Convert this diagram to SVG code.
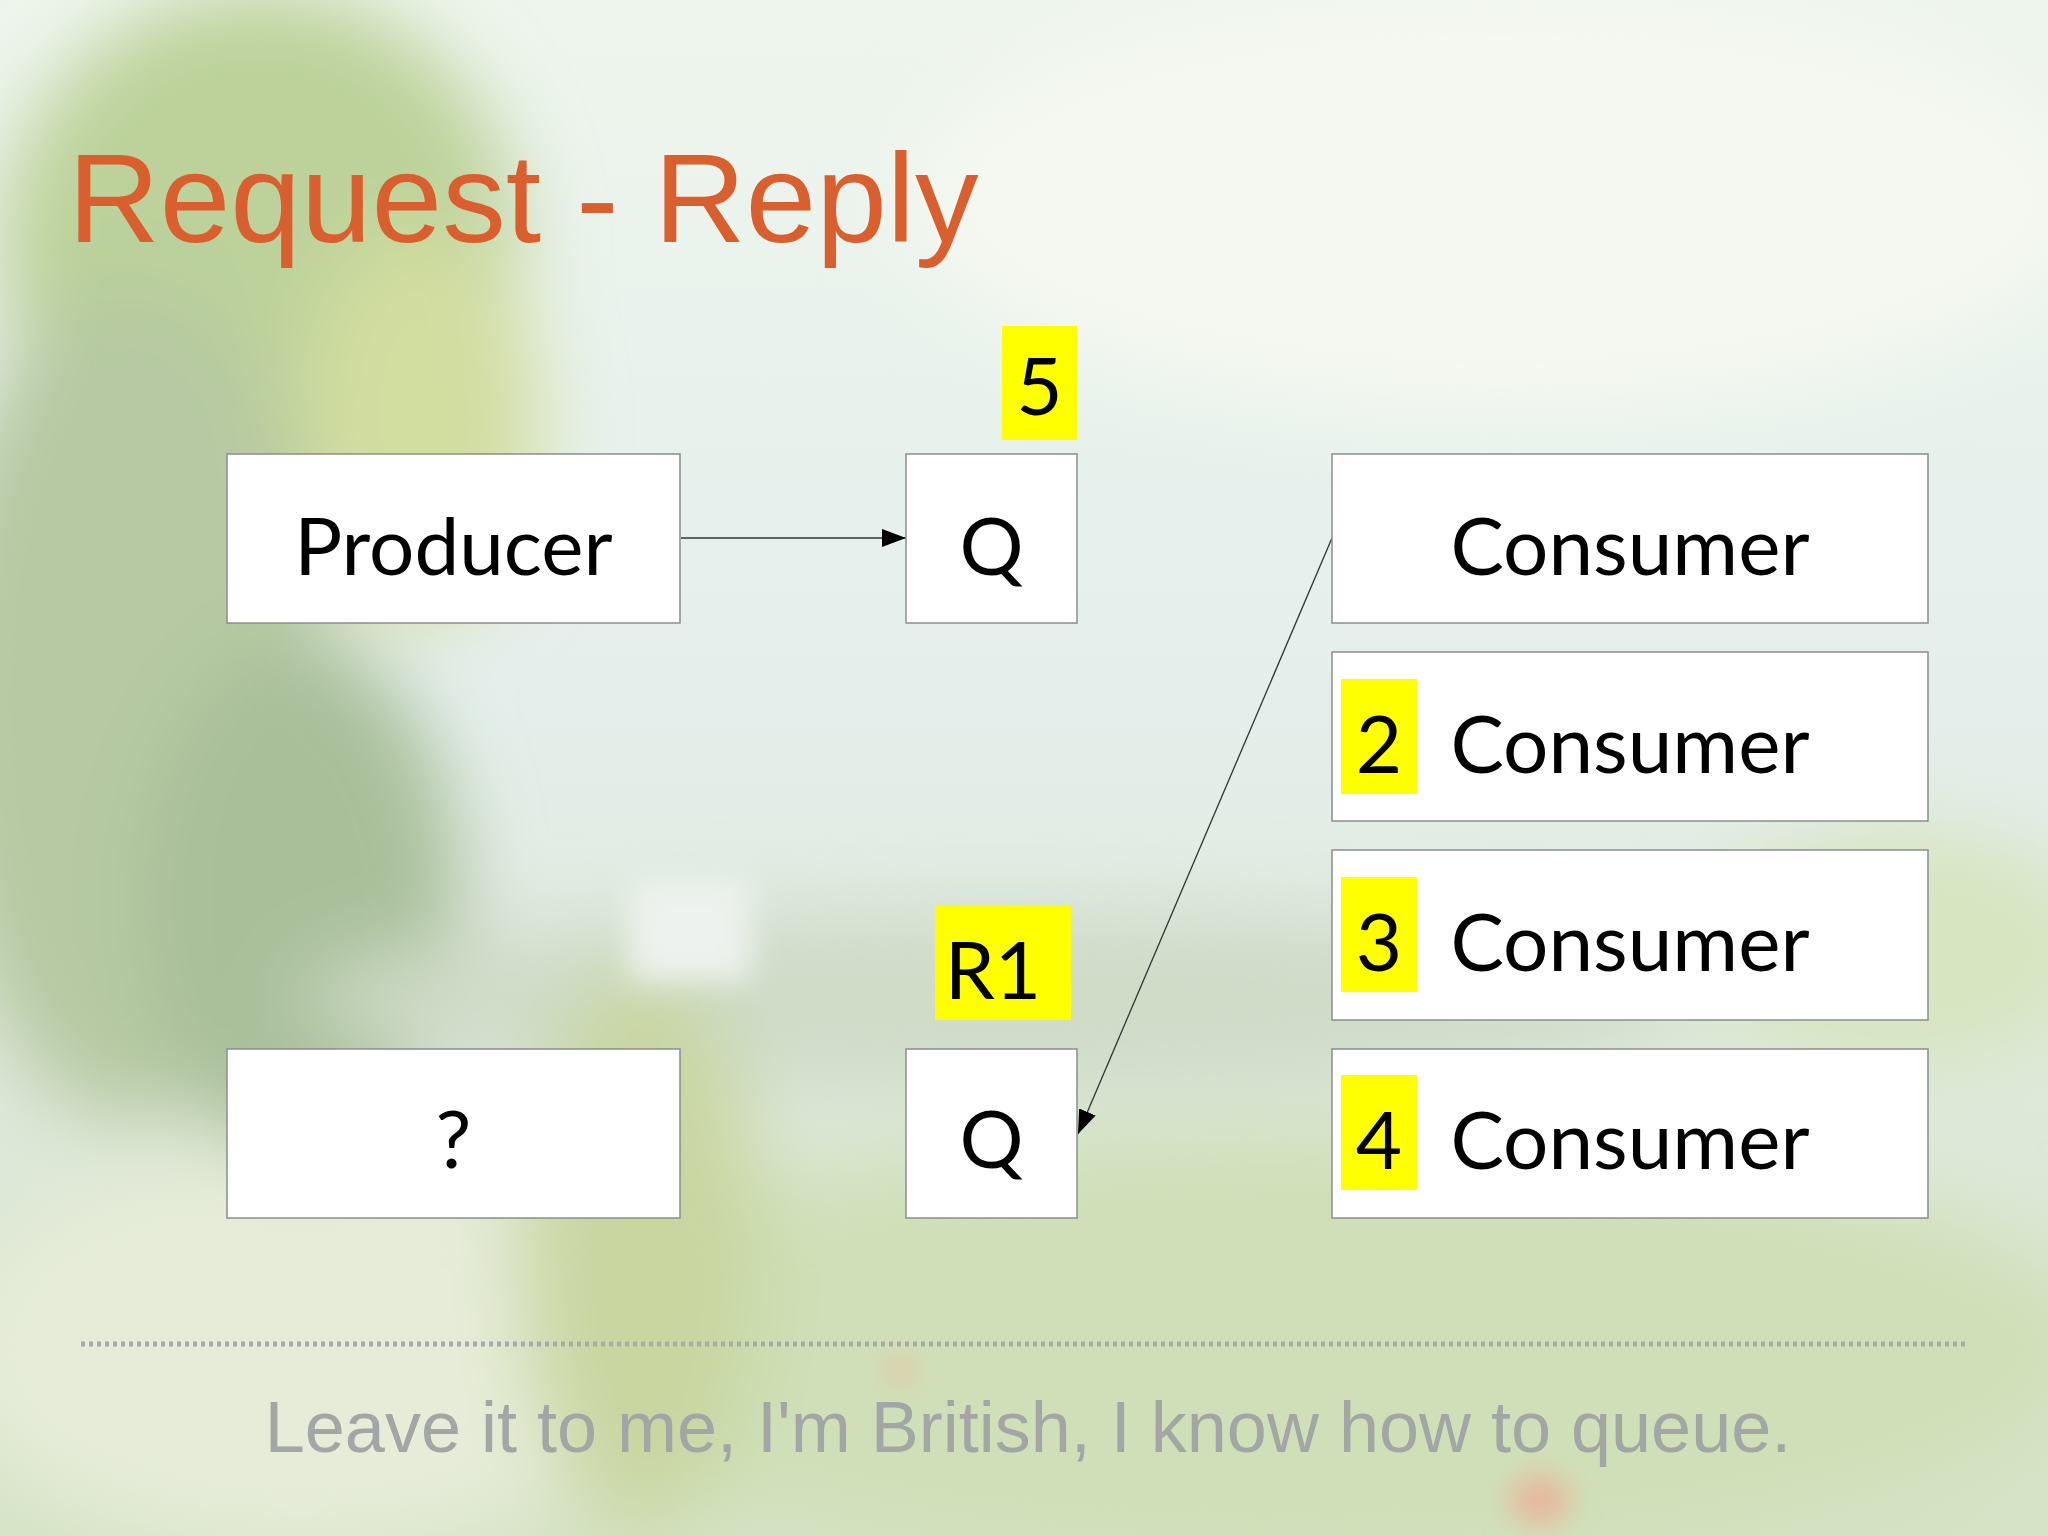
<svg xmlns="http://www.w3.org/2000/svg" width="2048" height="1536" viewBox="0 0 2048 1536">
<defs>
<style>
.box{fill:#ffffff;stroke:#8a8f8c;stroke-width:1.5}
.hl{fill:#ffff00}
.lbl{font-family:Lato,"Open Sans","DejaVu Sans",sans-serif;font-size:80px;fill:#000000}
.conn{stroke:#333333;stroke-width:1.3;fill:none}
</style>
<marker id="arr" markerUnits="userSpaceOnUse" markerWidth="26" markerHeight="18" refX="24" refY="9" orient="auto">
<path d="M0,0 L24,9 L0,18 Z" fill="#000000"/>
</marker>
<filter id="blur" x="-50%" y="-50%" width="200%" height="200%"><feGaussianBlur stdDeviation="40"/></filter>
<filter id="blur2" x="-50%" y="-50%" width="200%" height="200%"><feGaussianBlur stdDeviation="15"/></filter>
<linearGradient id="bg" x1="0" y1="0" x2="0" y2="1">
<stop offset="0" stop-color="#eef5ec"/>
<stop offset="0.45" stop-color="#e4efec"/>
<stop offset="0.7" stop-color="#dfe9dc"/>
<stop offset="1" stop-color="#d6e3c6"/>
</linearGradient>
</defs>
<g id="background">
<rect x="0" y="0" width="2048" height="1536" fill="url(#bg)"/>
<g filter="url(#blur)">
<ellipse cx="1500" cy="200" rx="600" ry="220" fill="#f4f8f0"/>
<ellipse cx="260" cy="250" rx="260" ry="260" fill="#bcd29a"/>
<ellipse cx="130" cy="700" rx="200" ry="420" fill="#b6c9a2"/>
<ellipse cx="420" cy="420" rx="120" ry="200" fill="#d2dda0"/>
<ellipse cx="300" cy="900" rx="160" ry="260" fill="#a9bf9a"/>
<ellipse cx="1000" cy="1000" rx="700" ry="90" fill="#cfdcc8"/>
<ellipse cx="1300" cy="1350" rx="800" ry="220" fill="#cfe0b8"/>
<ellipse cx="300" cy="1350" rx="350" ry="200" fill="#e6ecd8"/>
<ellipse cx="640" cy="1250" rx="120" ry="280" fill="#c9d6a0"/>
<ellipse cx="1900" cy="950" rx="200" ry="120" fill="#d7e5c0"/>
</g>
<g filter="url(#blur2)">
<rect x="630" y="880" width="120" height="100" fill="#eef2ee"/>
<ellipse cx="1540" cy="1500" rx="30" ry="25" fill="#e9b49a"/>
<ellipse cx="900" cy="1370" rx="14" ry="14" fill="#e8c0a0"/>
</g>
</g>
<g id="title">
<text x="68" y="242" font-family="'Liberation Sans',Arial,sans-serif" font-size="127" fill="#d95f2f">Request - Reply</text>
</g>
<g id="connectors">
<line class="conn" x1="681" y1="538" x2="906" y2="538" marker-end="url(#arr)"/>
<line class="conn" x1="1332" y1="538" x2="1078" y2="1134" marker-end="url(#arr)"/>
</g>
<g id="producer">
<rect class="box" x="227" y="454" width="453" height="169"/>
<text class="lbl" x="453.5" y="575" text-anchor="middle">Producer</text>
</g>
<g id="queue-request">
<rect class="box" x="906" y="454" width="171" height="169"/>
<text class="lbl" x="991.5" y="575" text-anchor="middle">Q</text>
</g>
<g id="badge-5">
<rect class="hl" x="1002" y="326" width="75" height="114"/>
<text class="lbl" x="1039.5" y="415" text-anchor="middle">5</text>
</g>
<g id="consumer-1">
<rect class="box" x="1332" y="454" width="596" height="169"/>
<text class="lbl" x="1630" y="575" text-anchor="middle">Consumer</text>
</g>
<g id="consumer-2">
<rect class="box" x="1332" y="652" width="596" height="169"/>
<rect class="hl" x="1341" y="679" width="76" height="115"/>
<text class="lbl" x="1379" y="773" text-anchor="middle">2</text>
<text class="lbl" x="1630" y="773" text-anchor="middle">Consumer</text>
</g>
<g id="consumer-3">
<rect class="box" x="1332" y="850" width="596" height="170"/>
<rect class="hl" x="1341" y="877" width="76" height="115"/>
<text class="lbl" x="1379" y="971" text-anchor="middle">3</text>
<text class="lbl" x="1630" y="971" text-anchor="middle">Consumer</text>
</g>
<g id="consumer-4">
<rect class="box" x="1332" y="1049" width="596" height="169"/>
<rect class="hl" x="1341" y="1075" width="76" height="115"/>
<text class="lbl" x="1379" y="1169" text-anchor="middle">4</text>
<text class="lbl" x="1630" y="1169" text-anchor="middle">Consumer</text>
</g>
<g id="unknown">
<rect class="box" x="227" y="1049" width="453" height="169"/>
<text class="lbl" x="453.5" y="1168" text-anchor="middle">?</text>
</g>
<g id="queue-reply">
<rect class="box" x="906" y="1049" width="171" height="169"/>
<text class="lbl" x="991.5" y="1168" text-anchor="middle">Q</text>
</g>
<g id="badge-r1">
<rect class="hl" x="935" y="906" width="136" height="114"/>
<text class="lbl" x="993" y="999" text-anchor="middle">R1</text>
</g>
<g id="footer">
<line x1="81" y1="1344" x2="1967" y2="1344" stroke="#a8aca8" stroke-width="5" stroke-dasharray="4 4"/>
<text x="1028" y="1452" text-anchor="middle" font-family="'Liberation Sans',Arial,sans-serif" font-size="72" fill="#a2a6a4">Leave it to me, I'm British, I know how to queue.</text>
</g>
</svg>
